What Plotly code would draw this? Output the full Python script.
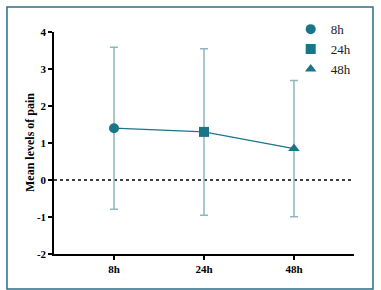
import plotly.graph_objects as go

categories = ["8h", "24h", "48h"]
means = [1.40, 1.30, 0.85]
err_plus = [2.19, 2.25, 1.84]
err_minus = [2.19, 2.25, 1.84]
symbols = ["circle", "square", "triangle-up"]
y_ticks = [-2, -1, 0, 1, 2, 3, 4]
y_ticktext = ["-2", "-1", "0", "1", "2", "3", "4"]
y_title = "Mean levels of pain"

MAIN = "#1b7589"
ERR = "#8db6c1"
FONT = "Liberation Serif"

fig = go.Figure()

fig.add_trace(go.Scatter(x=categories, y=means, mode="lines",
                         line=dict(color=MAIN, width=1.3), showlegend=False,
                         hoverinfo="skip"))

for c, m, ep, em, s in zip(categories, means, err_plus, err_minus, symbols):
    fig.add_trace(go.Scatter(
        x=[c], y=[m], mode="markers", name=c,
        marker=dict(symbol=s, size=10, color=MAIN),
        error_y=dict(type="data", symmetric=False, array=[ep], arrayminus=[em],
                     color=ERR, thickness=1.5, width=4),
    ))

fig.add_shape(type="line", xref="paper", yref="y", x0=0, x1=1, y0=0, y1=0,
              line=dict(color="black", width=1.5, dash="dot"), layer="below")

fig.add_shape(type="rect", xref="paper", yref="paper",
              x0=-0.1567, x1=1.0633, y0=-0.1577, y1=1.1126,
              line=dict(color="#2b6c86", width=1.5))

fig.add_annotation(text=y_title, xref="paper", yref="paper", x=-0.08, y=0.5,
                   textangle=-90, showarrow=False, xanchor="center", yanchor="middle",
                   font=dict(family=FONT, size=12, color="black", weight="bold"))

fig.update_layout(
    width=381, height=290,
    margin=dict(l=54, r=27, t=32, b=36, autoexpand=False),
    paper_bgcolor="white", plot_bgcolor="white",
    font=dict(family=FONT, color="black"),
    legend=dict(x=0.763, y=0.951, xref="container", yref="container",
                xanchor="left", yanchor="top",
                font=dict(family=FONT, size=13, color="#222"),
                bgcolor="rgba(0,0,0,0)", itemwidth=30, tracegroupgap=0),
    xaxis=dict(type="category", range=[-0.667, 2.667], showgrid=False,
               showline=True, linecolor="black", linewidth=1.5, automargin=False,
               ticks="outside", ticklen=4, tickwidth=1.5, tickcolor="black",
               tickfont=dict(family=FONT, size=11, color="black", weight="bold"),
               zeroline=False),
    yaxis=dict(range=[-2, 4], tickvals=y_ticks, ticktext=y_ticktext, showgrid=False,
               showline=True, linecolor="black", linewidth=1.5, automargin=False,
               ticks="outside", ticklen=4, tickwidth=1.5, tickcolor="black",
               tickfont=dict(family=FONT, size=11, color="black", weight="bold"),
               zeroline=False),
)

fig.write_html("out.html", config={"displayModeBar": False},
               post_script="document.body.style.margin='0';document.body.style.overflow='hidden';")
